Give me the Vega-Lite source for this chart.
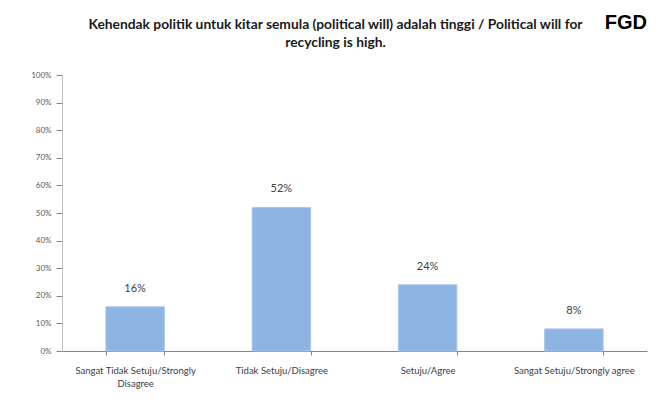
{
  "$schema": "https://vega.github.io/schema/vega-lite/v6.json",
  "autosize": "none",
  "width": 585,
  "height": 276,
  "padding": {"left": 62, "top": 75, "right": 22, "bottom": 54},
  "background": "white",
  "config": {
    "view": {"stroke": null},
    "font": "Lato"
  },
  "title": {
    "text": ["Kehendak politik untuk kitar semula (political will) adalah tinggi / Political will for", "recycling is high."],
    "font": "Lato",
    "fontSize": 13.8,
    "fontWeight": "bold",
    "color": "#1a1a1a",
    "lineHeight": 18,
    "anchor": "middle",
    "dx": -19,
    "dy": 57,
    "offset": 20
  },
  "data": {
    "values": [
      {"category": "Sangat Tidak Setuju/Strongly Disagree", "value": 0.16, "label": "16%"},
      {"category": "Tidak Setuju/Disagree", "value": 0.52, "label": "52%"},
      {"category": "Setuju/Agree", "value": 0.24, "label": "24%"},
      {"category": "Sangat Setuju/Strongly agree", "value": 0.08, "label": "8%"}
    ]
  },
  "encoding": {
    "x": {
      "field": "category",
      "type": "nominal",
      "sort": null,
      "scale": {"paddingInner": 0.6, "paddingOuter": 0.3},
      "axis": {
        "title": null,
        "labelAngle": 0,
        "labelFont": "Lato",
        "labelFontSize": 9.5,
        "labelColor": "#404040",
        "labelPadding": 10,
        "labelLimit": 200,
        "labelLineHeight": 13,
        "labelExpr": "datum.label == 'Sangat Tidak Setuju/Strongly Disagree' ? ['Sangat Tidak Setuju/Strongly', 'Disagree'] : datum.label",
        "tickBand": "extent",
        "tickSize": 4,
        "tickColor": "#868686",
        "domainColor": "#868686",
        "domainWidth": 1
      }
    },
    "y": {
      "field": "value",
      "type": "quantitative",
      "stack": null,
      "scale": {"domain": [0, 1], "nice": false},
      "axis": {
        "title": null,
        "values": [0, 0.1, 0.2, 0.3, 0.4, 0.5, 0.6, 0.7, 0.8, 0.9, 1],
        "tickCount": 20,
        "format": ".0%",
        "grid": false,
        "labelOverlap": false,
        "labelFont": "Lato",
        "labelFontSize": 8,
        "labelColor": "#595959",
        "labelPadding": 5,
        "tickSize": 6,
        "tickColor": "#868686",
        "domainColor": "#BFBFBF"
      }
    }
  },
  "layer": [
    {
      "mark": {"type": "bar", "color": "#8EB4E3", "stroke": "#A9C6EA", "strokeWidth": 1}
    },
    {
      "mark": {"type": "text", "font": "Lato", "fontSize": 11, "color": "#404040", "baseline": "middle", "dy": -18},
      "encoding": {
        "text": {"field": "label"}
      }
    },
    {
      "data": {"values": [{"tag": "FGD", "category": "Sangat Setuju/Strongly agree", "value": 1.19}]},
      "mark": {"type": "text", "font": "Liberation Sans", "fontWeight": "bold", "fontSize": 20, "color": "#000000", "baseline": "middle", "align": "center", "dx": 52},
      "encoding": {
        "text": {"field": "tag"}
      }
    }
  ]
}
